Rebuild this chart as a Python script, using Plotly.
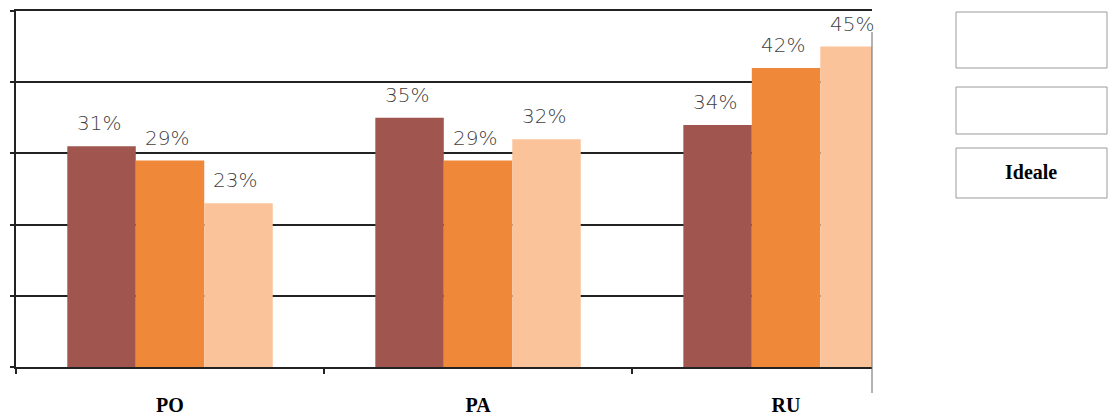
import plotly.graph_objects as go

categories = ["PO", "PA", "RU"]
series_names = ["Serie 1", "Serie 2", "Ideale"]
# values per category: (dark, orange, peach)
values_po = [31, 29, 23]
values_pa = [35, 29, 32]
values_ru = [34, 42, 45]
values = {"PO": values_po, "PA": values_pa, "RU": values_ru}
colors = ["#A0564F", "#EF8838", "#FBC39A"]

W, H = 1112, 416
L, R, T, B = 16, 872, 11, 367

fig = go.Figure()
for i, name in enumerate(series_names):
    fig.add_trace(go.Bar(
        x=categories,
        y=[values[c][i] for c in categories],
        name=name,
        marker=dict(color=colors[i], line=dict(width=0)),
        showlegend=False,
        hoverinfo="skip",
    ))

cat_px = (R - L) / (2.279 + 0.5)
bar_px = cat_px * (1 - 0.333) / 3
for c in categories:
    for i, v in enumerate(values[c]):
        fig.add_annotation(
            x=c, y=v, xref="x", yref="y",
            text=f"{v}%", showarrow=False,
            xshift=(i - 1) * bar_px - 3, yshift=9,
            yanchor="bottom",
            font=dict(family="DejaVu Sans", size=20, color="#3f3f3f", weight=200),
        )

def px_x(p):
    return (p - L) / (R - L)

def px_y(p):
    return (B - p) / (B - T)

# right vertical line
fig.add_shape(type="line", xref="paper", yref="paper",
              x0=1, x1=1, y0=px_y(393), y1=px_y(32),
              line=dict(color="#666666", width=1))

# legend-like boxes
boxes = [(12, 68), (87, 134), (148, 198)]
for (y0, y1) in boxes:
    fig.add_shape(type="rect", xref="paper", yref="paper",
                  x0=px_x(956), x1=px_x(1107), y0=px_y(y1), y1=px_y(y0),
                  line=dict(color="#9a9a9a", width=1), fillcolor="white")
fig.add_annotation(xref="paper", yref="paper", x=px_x(1031), y=px_y(172),
                   xanchor="center", yanchor="middle",
                   text="<b>Ideale</b>", showarrow=False,
                   font=dict(family="Liberation Serif", size=20, color="black"))

fig.update_layout(
    width=W, height=H,
    margin=dict(l=L, r=W - R, t=T, b=H - B, autoexpand=False),
    paper_bgcolor="white", plot_bgcolor="white",
    barmode="group", bargap=0.333, bargroupgap=0,
    font=dict(family="Liberation Serif"),
)
fig.update_xaxes(
    type="category", range=[-0.5, 2.279], automargin=False,
    showline=True, linecolor="#222222", linewidth=1.5, mirror=True,
    ticks="outside", tickson="boundaries", ticklen=5, tickwidth=1.5, tickcolor="#222222",
    showgrid=False,
    tickfont=dict(family="Liberation Serif", size=20, color="black", weight="bold"),
    ticklabelstandoff=19,
)
fig.update_yaxes(
    range=[0, 50], tickvals=[0, 10, 20, 30, 40, 50], automargin=False,
    showticklabels=False,
    showline=True, linecolor="#222222", linewidth=1.5,
    ticks="outside", ticklen=4, tickwidth=1.5, tickcolor="#222222",
    showgrid=True, gridcolor="#222222", gridwidth=1.5,
    zeroline=False,
)

fig.write_html("out.html", config={"displayModeBar": False},
               post_script="document.body.style.margin='0';document.body.style.overflow='hidden';")
